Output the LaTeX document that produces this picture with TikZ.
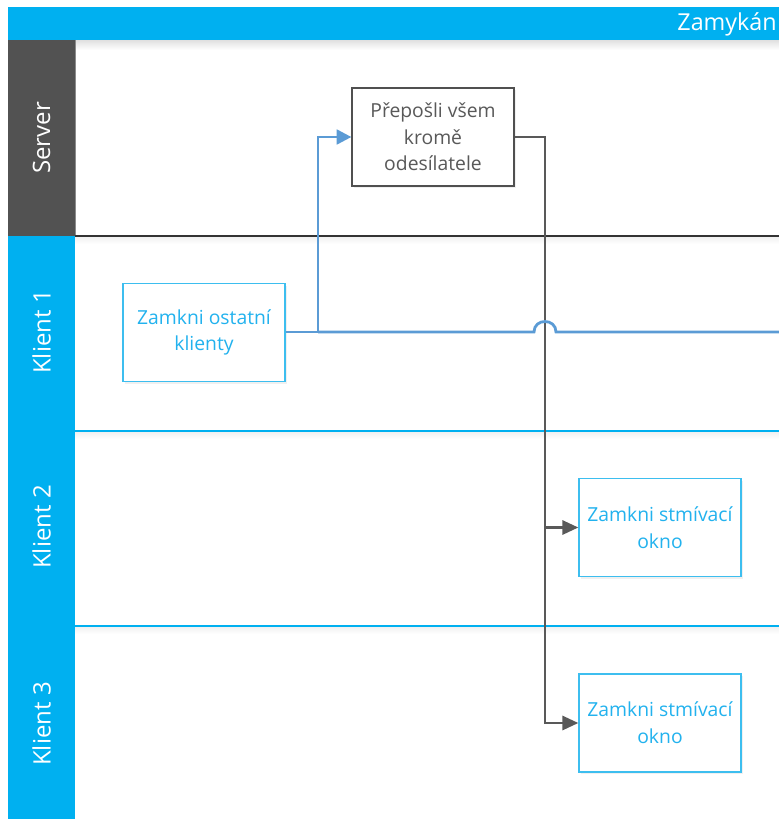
\documentclass[tikz,border=0pt]{standalone}
\usepackage{fontspec}
\setmainfont{Open Sans}
\usetikzlibrary{arrows.meta,shadows}
\definecolor{hdrblue}{HTML}{00B0F0}
\definecolor{srvgray}{HTML}{525252}
\definecolor{boxblue}{HTML}{3DBEEF}
\definecolor{txtblue}{HTML}{22B2EE}
\definecolor{conblue}{HTML}{5B9BD5}
\definecolor{congray}{HTML}{595959}
\begin{document}
\begin{tikzpicture}[x=0.75pt,y=-0.75pt,
  stepbox/.style={draw, line width=0.9pt, fill=white, minimum width=121.5pt, minimum height=73.5pt, align=center, font=\fontsize{14.5}{20}\selectfont, inner sep=0pt, drop shadow={opacity=0.12,shadow xshift=1.2pt,shadow yshift=-1.5pt}},
  cbox/.style={stepbox, draw=boxblue, text=txtblue},
  sbox/.style={stepbox, draw=congray!90!black, text=congray},
  lanelbl/.style={rotate=90, text=white, inner sep=0pt, font=\fontsize{18}{20}\selectfont},
  bluec/.style={draw=conblue, line width=2.1pt},
  grayc/.style={draw=congray, line width=2.2pt},
  tri/.style={-{Triangle[length=12pt,width=10.5pt]}},
  btri/.style={-{Triangle[length=11pt,width=11pt]}}
]
\useasboundingbox (0,0) rectangle (779,819);
\clip (0,0) rectangle (779,819);
% header
\fill[hdrblue] (8,7) rectangle (779,40);
\node[anchor=east, text=white, inner sep=0pt, font=\fontsize{17.5}{20}\selectfont] (hdr) at (777,24) {Zamykán};
% lanes
\shade[top color=black!12, bottom color=white] (75,40) rectangle (779,50);
\shade[top color=black!6, bottom color=white] (75,236.5) rectangle (779,244);
\shade[top color=black!6, bottom color=white] (75,431.5) rectangle (779,439);
\shade[top color=black!6, bottom color=white] (75,626.5) rectangle (779,634);
\fill[srvgray] (8,40) rectangle (75,236);
\fill[hdrblue] (8,236) rectangle (75,819);
\draw[black!45, line width=0.6pt] (75,40) -- (75,236);
\draw[black!80, line width=0.8pt] (75,236) -- (779,236);
\draw[hdrblue, line width=0.8pt] (75,431) -- (779,431);
\draw[hdrblue, line width=0.8pt] (75,626) -- (779,626);
\node[lanelbl] (lsrv) at (41.5,138) {Server};
\node[lanelbl] (lk1) at (41.5,332) {Klient 1};
\node[lanelbl] (lk2) at (41.5,527) {Klient 2};
\node[lanelbl] (lk3) at (41.5,724) {Klient 3};
% steps
\node[sbox] (srv) at (433,137) {Přepošli všem\\kromě\\odesílatele};
\node[cbox] (k1) at (204,332.5) {Zamkni ostatní\\klienty};
\node[cbox] (k2) at (660,527.5) {Zamkni stmívací\\okno};
\node[cbox] (k3) at (660,723) {Zamkni stmívací\\okno};
% connectors
\coordinate (gx) at (545,137);
\coordinate (gy) at (545,527.5);
\draw[grayc, tri] (srv.east) -- (gx) |- (k3.west);
\draw[grayc, tri] (gy) -- (k2.west);
\coordinate (bj) at (318,332);
\coordinate (hopl) at (534,332);
\coordinate (hopr) at (556,332);
\coordinate (rend) at (781,332);
\draw[bluec, btri] (k1.east |- bj) -- (bj) |- (srv.west);
\draw[bluec] (bj) -- (hopl) .. controls (534,318) and (556,318) .. (hopr) -- (rend);
\end{tikzpicture}
\end{document}
